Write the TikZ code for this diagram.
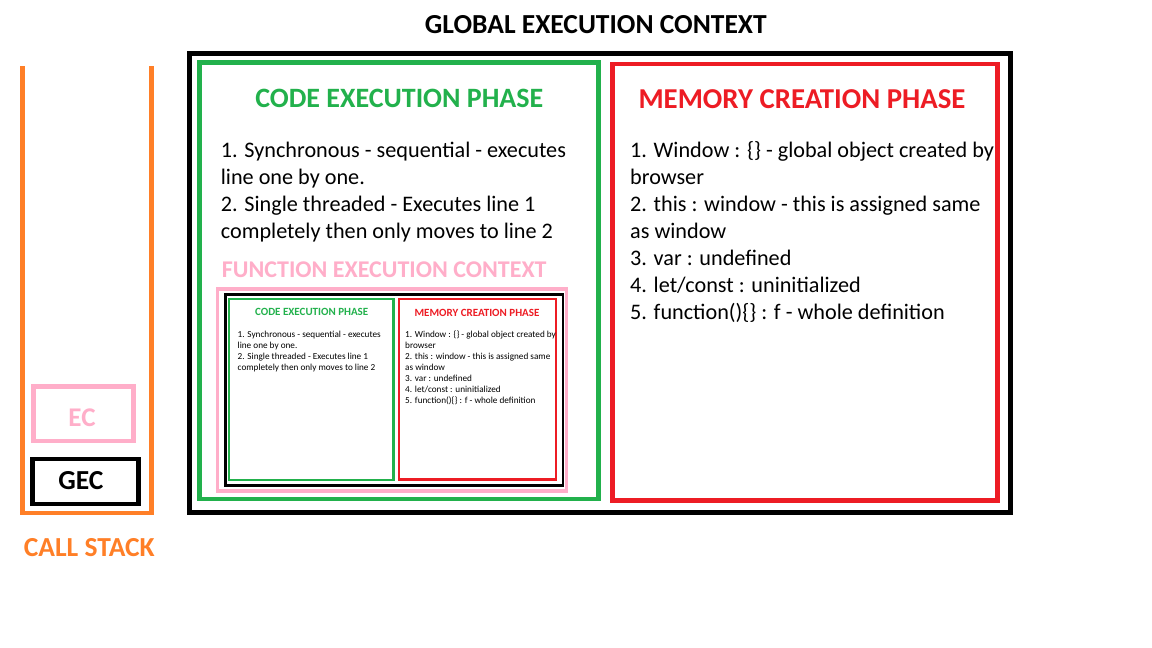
\documentclass[tikz,border=0pt]{standalone}
\usepackage{fontspec}
\setmainfont{Carlito}
\definecolor{cgreen}{HTML}{22B14C}
\definecolor{cred}{HTML}{ED1C24}
\definecolor{cpink}{HTML}{FFAEC9}
\definecolor{corange}{HTML}{FF7F27}
\tikzset{
  lbl/.style={inner sep=0pt, anchor=base},
  body/.style={inner sep=0pt, anchor=base west, align=left, font=\fontsize{22.2}{27}\selectfont},
  sbody/.style={inner sep=0pt, anchor=base west, align=left, font=\fontsize{9.2}{11}\selectfont},
  head/.style={lbl, font=\fontsize{28}{32}\selectfont\bfseries},
  shead/.style={lbl, font=\fontsize{11}{13}\selectfont\bfseries},
}
\begin{document}
\begin{tikzpicture}[x=1pt,y=-1pt]
\useasboundingbox[fill=white] (0,0) rectangle (1152,648);
% title
\node[lbl, font=\fontsize{27.5}{30}\selectfont\bfseries] (title) at (595.8,33.3) {GLOBAL EXECUTION CONTEXT};
% call stack
\draw[corange, line width=4.5] (22.5,66) -- (22.5,513) -- (151.5,513) -- (151.5,66);
\draw[cpink, line width=4.5] (33.3,386.5) rectangle (133.3,441);
\node[lbl, text=cpink, font=\fontsize{27}{30}\selectfont\bfseries] (ec) at (82,426.7) {EC};
\draw[black, line width=4.5] (32.5,459) rectangle (138.3,504);
\node[lbl, font=\fontsize{27.5}{30}\selectfont\bfseries] (gec) at (80.8,489.3) {GEC};
\node[lbl, text=corange, font=\fontsize{27.5}{30}\selectfont\bfseries] (cs) at (89.3,556) {CALL STACK};
% global EC
\draw[black, line width=5] (189.5,53) rectangle (1010,512);
\draw[cgreen, line width=4.7] (199.3,62.5) rectangle (598.3,499);
\draw[cred, line width=4.7] (612.5,64) rectangle (997.5,500.5);
\node[head, text=cgreen] (cep) at (399.3,107) {CODE EXECUTION PHASE};
\node[head, text=cred, font=\fontsize{28.8}{32}\selectfont\bfseries] (mcp) at (802,108) {MEMORY CREATION PHASE};
% base anchor = baseline of the last line
\node[body] (cetext) at (220.7,238) {1. Synchronous - sequential - executes\\line one by one.\\2. Single threaded - Executes line 1\\completely then only moves to line 2};
\node[body] (mctext) at (630,319) {1. Window : \{\} - global object created by\\browser\\2. this : window - this is assigned same\\as window\\3. var : undefined\\4. let/const : uninitialized\\5. function()\{\} : f - whole definition};
% function EC
\node[lbl, text=cpink, font=\fontsize{24}{27}\selectfont\bfseries] (fec) at (384.2,277.3) {FUNCTION EXECUTION CONTEXT};
\draw[cpink, line width=3.2] (217.5,289) rectangle (566.5,491);
\draw[black, line width=2.7] (225.3,294.5) rectangle (563,485.3);
\draw[cgreen, line width=2.2] (229,299) rectangle (393.5,479.7);
\draw[cred, line width=2.7] (399,299) rectangle (556,479.7);
\node[shead, text=cgreen] (scep) at (311.7,315.7) {CODE EXECUTION PHASE};
\node[shead, text=cred] (smcp) at (477,316) {MEMORY CREATION PHASE};
\node[sbody] (scetext) at (237.5,370.3) {1. Synchronous - sequential - executes\\line one by one.\\2. Single threaded - Executes line 1\\completely then only moves to line 2};
\node[sbody] (smctext) at (405,403.3) {1. Window : \{\} - global object created by\\browser\\2. this : window - this is assigned same\\as window\\3. var : undefined\\4. let/const : uninitialized\\5. function()\{\} : f - whole definition};
\end{tikzpicture}
\end{document}
